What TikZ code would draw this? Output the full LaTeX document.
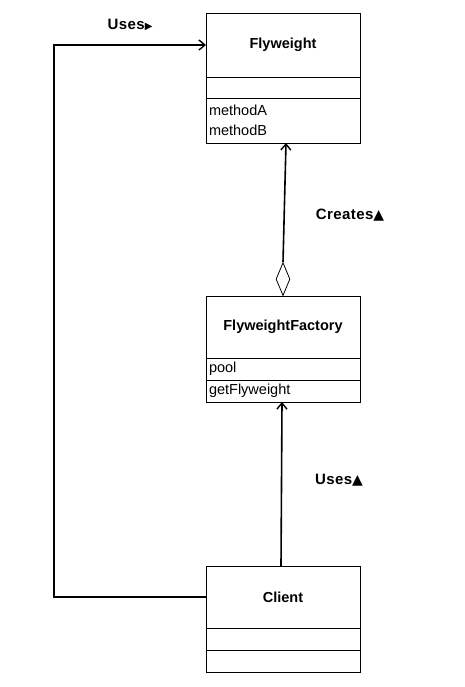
\documentclass[tikz,border=0pt]{standalone}
\usepackage{fontspec}
\setmainfont{Liberation Sans}
\newfontfamily\symfont{DejaVu Sans}
\usetikzlibrary{arrows.meta,shapes.geometric,calc}
\begin{document}
\begin{tikzpicture}[x=1pt,y=-1pt,
  comp/.style={draw,line width=0.8pt,minimum width=154pt,inner sep=0pt,outer sep=0pt,anchor=north west,font=\fontsize{14.5}{17}\selectfont},
  titlebox/.style={comp,font=\fontsize{14.5}{17}\selectfont\bfseries},
  opsbox/.style={comp,text width=148pt,align=left,inner xsep=3pt},
  conn/.style={line width=1.6pt,-{Straight Barb[length=6pt,width=10pt,line width=1.4pt]}},
  lbl/.style={font=\fontsize{15}{17}\selectfont\bfseries\addfontfeatures{LetterSpace=3},inner sep=0pt}]
\useasboundingbox (0,0) rectangle (465,687);
% Flyweight
\node[titlebox,minimum height=64pt] (fwT) at (206,13) {Flyweight};
\node[comp,minimum height=21pt] (fwA) at (206,77) {};
\node[opsbox,minimum height=45pt] (fwO) at (206,98) {methodA\\[3pt]methodB};
% FlyweightFactory
\node[titlebox,minimum height=62pt] (ffT) at (206,296) {FlyweightFactory};
\node[opsbox,minimum height=22pt] (ffA) at (206,358) {pool};
\node[opsbox,minimum height=22pt] (ffO) at (206,380) {getFlyweight};
% Client
\node[titlebox,minimum height=62pt] (clT) at (206,566) {Client};
\node[comp,minimum height=22pt] (clA) at (206,628) {};
\node[comp,minimum height=22pt] (clO) at (206,650) {};
% aggregation diamond
\node[draw,diamond,line width=0.8pt,minimum width=14pt,minimum height=33pt,inner sep=0pt,shape aspect=0.42,anchor=south] (dia) at (ffT.north) {};
% connectors
\draw[conn] (dia.north) -- ($(fwO.south)+(3,0)$);
\draw[conn] ($(clT.north)+(-2,0)$) -- ($(ffO.south)+(-1,0)$);
\coordinate (cor) at (54,597);
\draw[conn] (clT.west) -- (cor) |- (fwT.west);
% labels
\node[lbl] (l1) at (130,25) {Uses{\symfont\fontsize{10}{10}\selectfont ▶}};
\node[lbl] (l2) at (350,215) {Creates{\symfont\fontsize{14}{14}\selectfont ▲}};
\node[lbl] (l3) at (339,480) {Uses{\symfont\fontsize{14}{14}\selectfont ▲}};
\end{tikzpicture}
\end{document}
